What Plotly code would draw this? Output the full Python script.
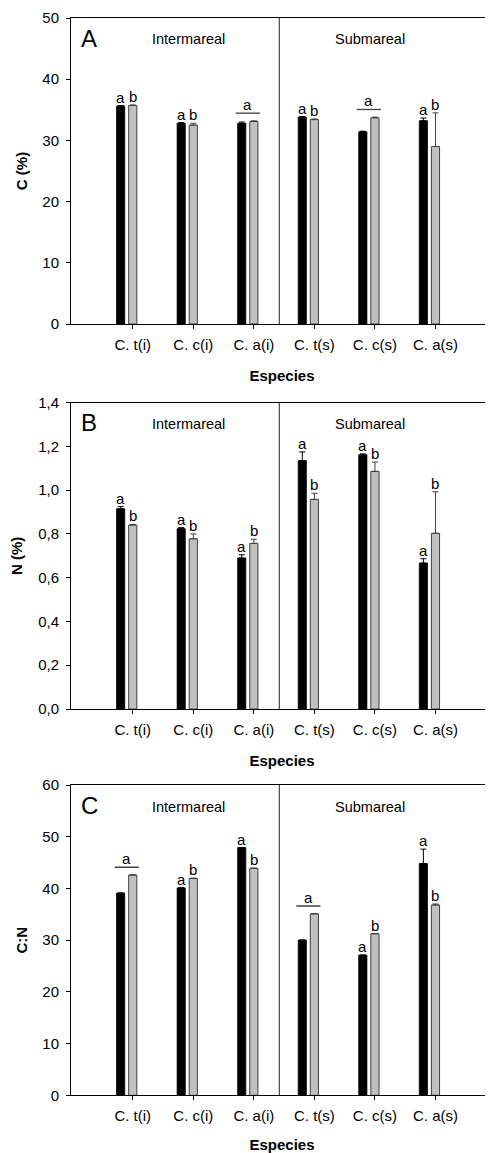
import plotly.graph_objects as go

# ---------------- data ----------------
species = ["C. t(i)", "C. c(i)", "C. a(i)", "C. t(s)", "C. c(s)", "C. a(s)"]

# Panel A : C (%)
c_black = [35.6, 32.8, 32.8, 33.8, 31.4, 33.2]
c_black_err = [0.1, 0.1, 0.2, 0.1, 0.1, 0.45]
c_gray = [35.7, 32.5, 33.1, 33.4, 33.7, 29.0]
c_gray_err = [0.1, 0.3, 0.1, 0.1, 0.1, 5.5]
c_let_black = ["a", "a", "", "a", "", "a"]
c_let_gray = ["b", "b", "", "b", "", "b"]
c_let_group = ["", "", "a", "", "a", ""]

# Panel B : N (%)
n_black = [0.915, 0.824, 0.690, 1.135, 1.162, 0.667]
n_black_err = [0.01, 0.005, 0.015, 0.04, 0.004, 0.02]
n_gray = [0.841, 0.778, 0.757, 0.958, 1.086, 0.803]
n_gray_err = [0.003, 0.022, 0.019, 0.028, 0.043, 0.19]
n_let_black = ["a", "a", "a", "a", "a", "a"]
n_let_gray = ["b", "b", "b", "b", "b", "b"]
n_let_group = ["", "", "", "", "", ""]

# Panel C : C:N
cn_black = [39.1, 40.1, 47.9, 30.0, 27.1, 44.8]
cn_black_err = [0, 0, 0, 0, 0, 2.8]
cn_gray = [42.6, 41.95, 43.9, 35.1, 31.25, 36.8]
cn_gray_err = [0, 0, 0, 0, 0, 0.2]
cn_let_black = ["", "a", "a", "", "a", "a"]
cn_let_gray = ["", "b", "b", "", "b", "b"]
cn_let_group = ["a", "", "", "a", "", ""]

panel_letters = ["A", "B", "C"]
y_titles = ["C (%)", "N (%)", "C:N"]
x_title = "Especies"
zone_labels = ["Intermareal", "Submareal"]

# ---------------- layout constants ----------------
PAGE = 8           # default body margin of the html page
W, H = 493 - PAGE, 1153 - PAGE
FONT = "Arial, Liberation Sans, sans-serif"
GRAY = "#c0c0c0"
OFF = 0.2          # black bar offset to the left of the tick
BW = 0.135         # bar width in category units
XR = [-0.02, 6.95]
DIV = 3.42

panels = [
    dict(black=c_black, berr=c_black_err, gray=c_gray, gerr=c_gray_err,
         lb=c_let_black, lg=c_let_gray, lgr=c_let_group,
         yr=[0, 50], dt=10, fmt=None, top=18, bot=324),
    dict(black=n_black, berr=n_black_err, gray=n_gray, gerr=n_gray_err,
         lb=n_let_black, lg=n_let_gray, lgr=n_let_group,
         yr=[0, 1.4], dt=0.2, fmt="comma", top=402.7, bot=709),
    dict(black=cn_black, berr=cn_black_err, gray=cn_gray, gerr=cn_gray_err,
         lb=cn_let_black, lg=cn_let_gray, lgr=cn_let_group,
         yr=[0, 60], dt=10, fmt=None, top=785, bot=1095.3),
]

xs = list(range(1, len(species) + 1))

fig = go.Figure()
annotations = []
shapes = []

for k, p in enumerate(panels):
    sfx = "" if k == 0 else str(k + 1)
    xa, ya = "x" + sfx, "y" + sfx
    xb = [x - OFF for x in xs]
    fig.add_trace(go.Bar(
        x=xb, y=p["black"], width=BW, xaxis=xa, yaxis=ya,
        marker=dict(color="black", line=dict(color="black", width=0.8)),
        error_y=dict(type="data", array=p["berr"], arrayminus=[0] * 6,
                     symmetric=False, color="black", thickness=1, width=3),
        showlegend=False, hoverinfo="skip"))
    fig.add_trace(go.Bar(
        x=xs, y=p["gray"], width=BW, xaxis=xa, yaxis=ya,
        marker=dict(color=GRAY, line=dict(color="#404040", width=1)),
        error_y=dict(type="data", array=p["gerr"], arrayminus=[0] * 6,
                     symmetric=False, color="#404040", thickness=1, width=3),
        showlegend=False, hoverinfo="skip"))

    lo, hi = p["yr"]
    rng = hi - lo
    ticks = []
    v = lo
    while v <= hi + 1e-9:
        ticks.append(round(v, 4))
        v += p["dt"]
    if p["fmt"] == "comma":
        ttxt = [f"{t:.1f}".replace(".", ",") for t in ticks]
    else:
        ttxt = [f"{t:g}" for t in ticks]

    dom = [1 - (p["bot"] - PAGE) / H, 1 - (p["top"] - PAGE) / H]
    axis_font = dict(family=FONT, size=15, color="black")
    fig.layout["xaxis" + sfx] = dict(
        domain=[0, 1], range=XR, anchor=ya, tickmode="array",
        tickvals=xs, ticktext=species, ticks="outside", ticklen=4,
        tickcolor="black", showline=True, linecolor="black", linewidth=1,
        mirror=True, showgrid=False, zeroline=False, tickfont=axis_font,
        ticklabelstandoff=3, automargin=False,
        title=dict(text="<b>" + x_title + "</b>", font=dict(family=FONT, size=15, color="black"), standoff=18),
        fixedrange=True)
    fig.layout["yaxis" + sfx] = dict(
        domain=dom, range=[lo, hi], anchor=xa, tickmode="array",
        tickvals=ticks, ticktext=ttxt, ticks="outside", ticklen=4,
        tickcolor="black", showline=True, linecolor="black", linewidth=1,
        showgrid=False, zeroline=False, tickfont=axis_font,
        ticklabelstandoff=4, automargin=False,
        title=dict(text="<b>" + y_titles[k] + "</b>", font=dict(family=FONT, size=15, color="black"), standoff=11),
        fixedrange=True)

    # divider between zones
    shapes.append(dict(type="line", xref=xa, yref=ya, x0=DIV, x1=DIV, y0=lo, y1=hi,
                       line=dict(color="#202020", width=1)))

    # panel letter and zone labels
    annotations.append(dict(text=panel_letters[k], xref=xa + " domain", yref=ya + " domain",
                            x=0.02, y=0.985, xanchor="left", yanchor="top", showarrow=False,
                            font=dict(family=FONT, size=24, color="black")))
    for zx, zl in zip([1.92, 4.92], zone_labels):
        annotations.append(dict(text=zl, xref=xa, yref=ya + " domain", x=zx, y=0.93,
                                xanchor="center", yanchor="middle", showarrow=False,
                                font=dict(family=FONT, size=14.5, color="black")))

    # significance letters
    for i, x in enumerate(xs):
        if p["lb"][i]:
            annotations.append(dict(text=p["lb"][i], xref=xa, yref=ya, x=x - OFF,
                                    y=p["black"][i] + p["berr"][i], yanchor="bottom",
                                    xanchor="center", yshift=-2, showarrow=False,
                                    font=dict(family=FONT, size=15, color="black")))
        if p["lg"][i]:
            annotations.append(dict(text=p["lg"][i], xref=xa, yref=ya, x=x,
                                    y=p["gray"][i] + p["gerr"][i], yanchor="bottom",
                                    xanchor="center", yshift=-2, showarrow=False,
                                    font=dict(family=FONT, size=15, color="black")))
        if p["lgr"][i]:
            top = max(p["black"][i] + p["berr"][i], p["gray"][i] + p["gerr"][i])
            ly = top + 0.025 * rng
            shapes.append(dict(type="line", xref=xa, yref=ya, x0=x - OFF - 0.1, x1=x + 0.1,
                               y0=ly, y1=ly, line=dict(color="#404040", width=1.3)))
            annotations.append(dict(text=p["lgr"][i], xref=xa, yref=ya, x=x - OFF / 2,
                                    y=ly, yanchor="bottom", xanchor="center", yshift=-2,
                                    showarrow=False,
                                    font=dict(family=FONT, size=15, color="black")))

fig.update_layout(
    width=W, height=H, margin=dict(l=71 - PAGE, r=0, t=0, b=0, autoexpand=False),
    paper_bgcolor="white", plot_bgcolor="white", barmode="overlay",
    annotations=annotations, shapes=shapes, showlegend=False,
    font=dict(family=FONT, size=15, color="black"))

fig.write_html("out.html")
